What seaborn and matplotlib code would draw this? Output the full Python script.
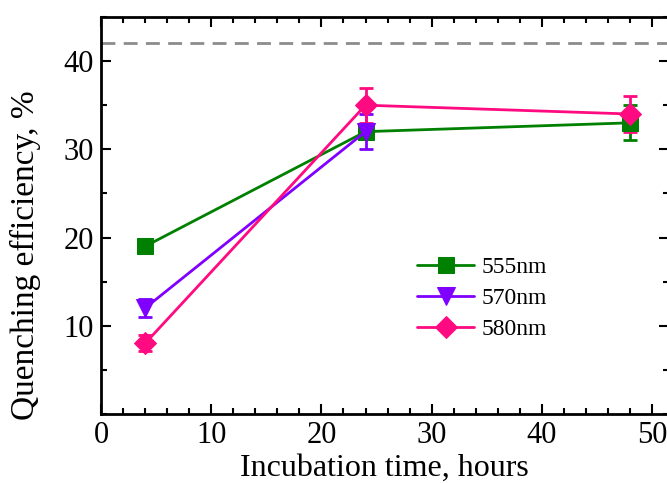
import numpy as np
import pandas as pd
import matplotlib
matplotlib.use('Agg')
import matplotlib.pyplot as plt
import seaborn as sns
from matplotlib.ticker import MultipleLocator

sns.set_style('ticks')
plt.rcParams['font.family'] = ['Liberation Serif', 'DejaVu Serif']
plt.rcParams['text.color'] = 'black'
plt.rcParams['axes.labelcolor'] = 'black'
plt.rcParams['xtick.color'] = 'black'
plt.rcParams['ytick.color'] = 'black'
plt.rcParams['axes.edgecolor'] = 'black'

# data
time_555 = [4, 24, 48]
eff_555 = [19, 32, 33]
err_555 = [0.7, 0.8, 2.0]

time_570 = [4, 24]
eff_570 = [12, 32]
err_570 = [1.0, 2.0]

time_580 = [4, 24, 48]
eff_580 = [8, 35, 34]
err_580 = [0.9, 2.0, 2.0]

labels = ['555nm', '570nm', '580nm']
colors = ['#008000', '#8000ff', '#ff0a80']
markers = ['s', 'v', 'D']
msizes = [11, 13, 11]
ref_level = 42

df = pd.concat([
    pd.DataFrame({'time': time_555, 'eff': eff_555, 'err': err_555, 'series': labels[0]}),
    pd.DataFrame({'time': time_570, 'eff': eff_570, 'err': err_570, 'series': labels[1]}),
    pd.DataFrame({'time': time_580, 'eff': eff_580, 'err': err_580, 'series': labels[2]}),
])

fig = plt.figure(figsize=(6.67, 4.83), dpi=100)
ax = fig.add_axes([0.1514, 0.1429, 0.851, 0.822])

for lab, col, mk, ms in zip(labels, colors, markers, msizes):
    sub = df[df['series'] == lab]
    ax.errorbar(sub['time'], sub['eff'], yerr=sub['err'], fmt='none', ecolor=col,
                elinewidth=2, capsize=5, capthick=2, zorder=2)
    sns.lineplot(data=sub, x='time', y='eff', ax=ax, color=col, marker=mk,
                 markersize=ms, markeredgecolor=col, linewidth=2, label=lab, zorder=3)

ax.axhline(ref_level, color='#8c8c8c', linestyle=(0, (5, 3)), linewidth=2, zorder=1)

ax.set_xlim(0, 51.5)
ax.set_ylim(0, 45)
ax.xaxis.set_major_locator(MultipleLocator(10))
ax.xaxis.set_minor_locator(MultipleLocator(2))
ax.yaxis.set_major_locator(MultipleLocator(10))
ax.yaxis.set_minor_locator(MultipleLocator(5))
ax.set_yticks([10, 20, 30, 40])
ax.tick_params(which='both', direction='in', top=True, right=True, width=1.5)
ax.tick_params(which='major', length=7, labelsize=22, pad=5)
ax.tick_params(which='minor', length=4)
for sp in ax.spines.values():
    sp.set_linewidth(2)

ax.set_xlabel('Incubation time, hours', fontsize=23, labelpad=3)
ax.set_ylabel('Quenching efficiency, %', fontsize=24)
ax.yaxis.set_label_coords(-0.105, 0.40)

leg = ax.legend(loc='upper left', bbox_to_anchor=(0.52, 0.45), frameon=False,
                fontsize=17, handlelength=2.4, handletextpad=0.3, labelspacing=0.4)

fig.savefig('out.png', dpi=100)
